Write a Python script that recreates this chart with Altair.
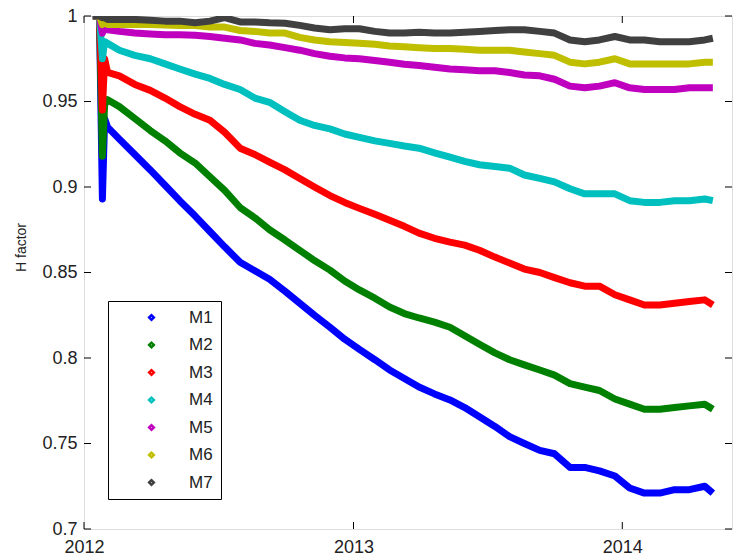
import altair as alt
import pandas as pd

# ---- data ----
DATES = [
    "2012-01-13", "2012-01-22", "2012-01-26", "2012-01-29", "2012-02-02",
    "2012-02-18", "2012-03-10", "2012-03-31", "2012-04-20", "2012-05-10",
    "2012-05-31", "2012-06-20", "2012-07-10", "2012-07-31", "2012-08-20",
    "2012-09-09", "2012-09-30", "2012-10-20", "2012-11-09", "2012-11-30",
    "2012-12-20", "2013-01-09", "2013-01-30", "2013-02-19", "2013-03-11",
    "2013-03-31", "2013-04-21", "2013-05-12", "2013-06-01", "2013-06-21",
    "2013-07-12", "2013-08-01", "2013-08-21", "2013-09-11", "2013-10-01",
    "2013-10-22", "2013-11-11", "2013-12-01", "2013-12-22", "2014-01-11",
    "2014-01-31", "2014-02-21", "2014-03-13", "2014-04-02", "2014-04-23",
    "2014-05-04",
]

M1 = [1.0, 1.0, 0.893, 0.940, 0.935, 0.928, 0.919, 0.910, 0.901, 0.892,
      0.883, 0.874, 0.865, 0.856, 0.851, 0.846, 0.839, 0.832, 0.825, 0.818,
      0.811, 0.805, 0.799, 0.793, 0.788, 0.783, 0.779, 0.7755, 0.771, 0.7656,
      0.760, 0.754, 0.750, 0.746, 0.744, 0.736, 0.736, 0.734, 0.731, 0.724,
      0.721, 0.721, 0.723, 0.723, 0.725, 0.721]
M2 = [1.0, 1.0, 0.918, 0.948, 0.951, 0.947, 0.940, 0.933, 0.927, 0.920,
      0.914, 0.906, 0.898, 0.888, 0.882, 0.875, 0.869, 0.863, 0.857, 0.8514,
      0.845, 0.8398, 0.835, 0.8298, 0.826, 0.8234, 0.821, 0.818, 0.813, 0.808,
      0.803, 0.799, 0.796, 0.793, 0.790, 0.785, 0.783, 0.781, 0.776, 0.773,
      0.770, 0.770, 0.771, 0.772, 0.773, 0.770]
M3 = [1.0, 1.0, 0.945, 0.975, 0.967, 0.965, 0.960, 0.9565, 0.952, 0.947,
      0.9425, 0.939, 0.932, 0.9227, 0.919, 0.9145, 0.910, 0.905, 0.900, 0.895,
      0.891, 0.8875, 0.884, 0.8806, 0.877, 0.873, 0.870, 0.8678, 0.866, 0.863,
      0.859, 0.8555, 0.852, 0.850, 0.847, 0.844, 0.842, 0.842, 0.837, 0.834,
      0.831, 0.831, 0.832, 0.833, 0.834, 0.831]
M4 = [1.0, 1.0, 0.975, 0.985, 0.984, 0.980, 0.977, 0.975, 0.972, 0.969,
      0.966, 0.9635, 0.960, 0.957, 0.952, 0.9495, 0.944, 0.939, 0.936, 0.934,
      0.931, 0.929, 0.927, 0.9255, 0.924, 0.9227, 0.920, 0.9175, 0.915, 0.913,
      0.912, 0.911, 0.907, 0.905, 0.903, 0.899, 0.896, 0.896, 0.896, 0.892,
      0.891, 0.891, 0.892, 0.892, 0.893, 0.892]
M5 = [1.0, 1.0, 0.990, 0.993, 0.992, 0.991, 0.990, 0.9895, 0.989, 0.989,
      0.9888, 0.988, 0.987, 0.986, 0.984, 0.983, 0.9815, 0.980, 0.978, 0.9765,
      0.9755, 0.975, 0.974, 0.973, 0.9718, 0.971, 0.970, 0.969, 0.9685, 0.968,
      0.968, 0.967, 0.9655, 0.965, 0.963, 0.959, 0.958, 0.959, 0.961, 0.958,
      0.957, 0.957, 0.957, 0.958, 0.958, 0.958]
M6 = [1.0, 1.0, 0.995, 0.997, 0.995, 0.995, 0.995, 0.995, 0.9948, 0.9945,
      0.9945, 0.9935, 0.9935, 0.9915, 0.991, 0.990, 0.990, 0.9875, 0.986, 0.985,
      0.9845, 0.984, 0.9835, 0.9825, 0.982, 0.9815, 0.981, 0.981, 0.9805, 0.980,
      0.980, 0.980, 0.979, 0.978, 0.977, 0.973, 0.972, 0.973, 0.975, 0.972,
      0.972, 0.972, 0.972, 0.972, 0.973, 0.973]
M7 = [1.0, 1.0, 0.999, 0.999, 0.998, 0.998, 0.998, 0.9975, 0.997, 0.997,
      0.996, 0.997, 0.999, 0.9965, 0.9965, 0.996, 0.9958, 0.9945, 0.993, 0.992,
      0.9925, 0.9925, 0.991, 0.990, 0.990, 0.9905, 0.990, 0.990, 0.9905, 0.991,
      0.9915, 0.992, 0.992, 0.991, 0.990, 0.986, 0.985, 0.986, 0.988, 0.986,
      0.986, 0.985, 0.985, 0.985, 0.986, 0.987]

SERIES = ["M1", "M2", "M3", "M4", "M5", "M6", "M7"]
COLORS = ["#0000FF", "#008000", "#FF0000", "#00BFBF", "#BF00BF", "#BFBF00", "#404040"]
Y_TICKS = [0.7, 0.75, 0.8, 0.85, 0.9, 0.95, 1.0]
X_TICKS = ["2012-01-01", "2013-01-01", "2014-01-01"]
X_END = "2014-05-30"

W, H = 648, 513
FONT = "Liberation Sans"

rows = []
for name, vals in zip(SERIES, [M1, M2, M3, M4, M5, M6, M7]):
    for d, v in zip(DATES, vals):
        rows.append({"date": pd.Timestamp(d), "H": v, "series": name})
df = pd.DataFrame(rows)

ytick_df = pd.DataFrame({"H": Y_TICKS})
xtick_df = pd.DataFrame({"date": pd.to_datetime(X_TICKS)})


def dt(s):
    t = pd.Timestamp(s)
    return alt.DateTime(year=t.year, month=t.month, date=t.day)


x_scale = alt.Scale(domain=[dt(X_TICKS[0]), dt(X_END)], nice=False)
y_scale = alt.Scale(domain=[Y_TICKS[0], Y_TICKS[-1]], nice=False, zero=False)

x_axis = alt.Axis(values=[dt(s) for s in X_TICKS], format="%Y", title=None,
                  ticks=False, domain=False, grid=False, labelFontSize=18,
                  labelPadding=9, labelFont=FONT, labelColor="#222222",
                  labelFlush=False)
y_axis = alt.Axis(values=Y_TICKS, format="~g", title="H factor", ticks=False,
                  domain=False, grid=False, labelFontSize=18, labelPadding=7,
                  labelFont=FONT, labelColor="#222222", labelFlush=False,
                  titleFont=FONT, titleFontSize=14, titleFontWeight="normal",
                  titleColor="#222222", titlePadding=13, titleY=231)

X = alt.X("date:T", scale=x_scale, axis=x_axis)
Y = alt.Y("H:Q", scale=y_scale, axis=y_axis)

lines = alt.Chart(df).mark_line(strokeWidth=7, strokeJoin="round", clip=True).encode(
    x=X,
    y=Y,
    color=alt.Color(
        "series:N",
        scale=alt.Scale(domain=SERIES, range=COLORS),
        legend=alt.Legend(
            title=None, orient="none", legendX=24, legendY=285,
            strokeColor="black", fillColor="white", padding=8, cornerRadius=0,
            symbolType="diamond", symbolSize=22, symbolStrokeWidth=2.5,
            symbolOffset=27, labelOffset=29, labelFontSize=17, labelFont=FONT,
            labelColor="#222222", rowPadding=9.5, columnPadding=0,
            labelLimit=28,
        ),
    ),
)

left_ticks = alt.Chart(ytick_df).mark_rule(color="black", strokeWidth=1).encode(
    y=Y, x=alt.value(0), x2=alt.value(7))
right_ticks = alt.Chart(ytick_df).mark_rule(color="black", strokeWidth=1).encode(
    y=Y, x=alt.value(W - 7), x2=alt.value(W))
top_ticks = alt.Chart(xtick_df).mark_rule(color="black", strokeWidth=1).encode(
    x=X, y=alt.value(0), y2=alt.value(7))
bottom_ticks = alt.Chart(xtick_df).mark_rule(color="black", strokeWidth=1).encode(
    x=X, y=alt.value(H - 7), y2=alt.value(H))

chart = alt.layer(lines, left_ticks, right_ticks, top_ticks, bottom_ticks).properties(
    width=W, height=H,
    autosize=alt.AutoSizeParams(type="none"),
    padding={"left": 84, "top": 16, "right": 1, "bottom": 28},
).configure_view(stroke="black", strokeWidth=1).configure(background="white")

chart.save("out.html", embed_options={"renderer": "svg", "actions": False})
